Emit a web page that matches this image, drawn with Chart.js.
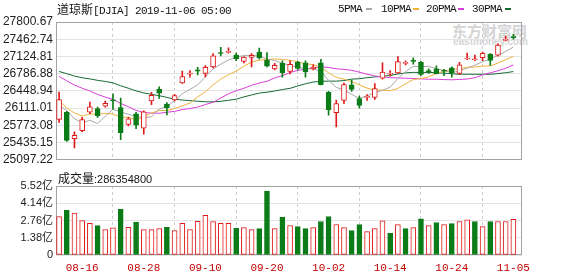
<!DOCTYPE html>
<html><head><meta charset="utf-8">
<script src="https://cdn.jsdelivr.net/npm/chart.js@4/dist/chart.umd.min.js"></script>
<style>
html,body{margin:0;padding:0;background:#fff;}
#wrap{position:relative;width:578px;height:276px;overflow:hidden;background:#fff;}
canvas{position:absolute;left:0;}
#c1{top:0;} #c2{top:170px;}
.t{position:absolute;white-space:nowrap;font-family:"Liberation Mono",monospace;font-size:11px;letter-spacing:-0.6px;color:#111;line-height:12px;}
.cjk{font-family:"Noto Sans CJK SC",sans-serif;font-size:12px;letter-spacing:0;}
.dash{position:absolute;width:6px;height:2px;}
.wm{position:absolute;color:#d4d4d4;white-space:nowrap;}
</style></head>
<body><div id="wrap">
<div class="wm" style="left:452px;top:22px;font-family:'Noto Sans CJK SC';font-size:15px;font-weight:bold;line-height:17px;">东方财富网</div>
<div class="wm" style="left:453px;top:37px;font-family:'Liberation Sans';font-size:10px;font-weight:bold;line-height:10px;">eastmoney.com</div>
<canvas id="c1" width="578" height="170"></canvas>
<canvas id="c2" width="578" height="106"></canvas>
<div class="t" style="left:57px;top:3px;"><span class="cjk">道琼斯</span>[DJIA] 2019-11-06 05:00</div>
<div class="t" style="left:338px;top:3px;">5PMA</div><div class="dash" style="left:366px;top:8px;background:#a8a8a8"></div>
<div class="t" style="left:381px;top:3px;">10PMA</div><div class="dash" style="left:413px;top:8px;background:#f0b23c"></div>
<div class="t" style="left:426px;top:3px;">20PMA</div><div class="dash" style="left:458px;top:8px;background:#d83fd8"></div>
<div class="t" style="left:472px;top:3px;">30PMA</div><div class="dash" style="left:505px;top:8px;background:#166a34"></div>
<div class="t" style="left:58px;top:172px;font-family:'Liberation Sans';font-size:11px;letter-spacing:0;"><span class="cjk">成交量</span>:286354800</div>
</div>
<script>
const dates = ['08-13','08-14','08-15','08-16','08-19','08-20','08-21','08-22','08-23','08-26','08-27','08-28','08-29','08-30',
'09-03','09-04','09-05','09-06','09-09','09-10','09-11','09-12','09-13','09-16','09-17','09-18','09-19','09-20','09-23','09-24','09-25','09-26','09-27','09-30',
'10-01','10-02','10-03','10-04','10-07','10-08','10-09','10-10','10-11','10-14','10-15','10-16','10-17','10-18','10-21','10-22','10-23','10-24','10-25','10-28','10-29','10-30','10-31',
'11-01','11-04','11-05'];
const opens  = [25890,26030,25510,25670,26030,26100,26150,26262,26120,25790,26000,25720,26250,26480,26190,26270,26605,26775,26860,26790,
26920,27200,27205,27150,27025,27105,27210,27050,26880,26990,26830,27010,27000,26880,27000,26420,26020,26260,26570,26300,
26320,26320,26700,26775,26800,26990,27050,27010,26850,26880,26845,26900,26790,27075,27060,27100,27170,27150,27440,27515];
const highs  = [26425,26050,25645,25930,26230,26130,26250,26390,26310,25930,26030,26060,26420,26530,26220,26380,26840,26850,26910,26945,
27180,27306,27294,27190,27120,27180,27290,27200,26990,27040,27040,27030,27040,26960,27070,26440,26267,26600,26660,26345,
26375,26595,27000,26850,27120,27040,27100,27030,26880,26940,26870,26920,27010,27190,27150,27210,27180,27370,27520,27560];
const lows   = [25830,25460,25330,25650,26000,25930,26130,26090,25490,25760,25710,25600,26180,26300,25980,26250,26595,26720,26760,26725,
26900,27135,27190,27040,27000,26917,27070,26920,26860,26720,26780,26860,26720,26860,26565,25975,25743,26200,26440,26110,
26260,26280,26680,26740,26790,26960,26975,26750,26790,26780,26750,26720,26770,27060,27040,27040,26950,27130,27430,27465];
const closes = [26279.91,25479.42,25579.39,25886.01,26135.79,25962.44,26202.73,26252.24,25628.90,25898.83,25777.90,26036.10,26362.25,26403.28,
26118.02,26355.47,26728.15,26797.46,26835.51,26909.43,27137.04,27182.45,27219.52,27076.82,27110.80,27147.08,27094.79,26935.07,26949.99,26807.77,
26970.71,26891.12,26820.25,26916.83,26573.04,26078.62,26201.04,26573.72,26478.02,26164.04,26346.01,26496.67,26816.59,26787.36,27024.80,
27001.98,27025.88,26770.20,26827.64,26788.10,26833.95,26805.53,26958.06,27090.72,27071.46,27186.69,27046.23,27347.36,27462.11,27492.63];
const prevClose = 25896.44;
const volumes = [3.08,3.57,3.35,2.76,2.54,2.35,2.03,2.17,3.65,2.22,2.62,2.03,2.03,2.11,2.22,1.95,2.54,2.03,2.70,3.17,
2.68,2.54,2.54,2.14,2.19,2.03,2.11,5.11,2.11,3.03,2.35,2.27,2.11,2.19,2.68,3.08,2.44,2.19,1.95,2.44,
1.87,2.11,2.73,1.73,2.44,2.11,2.19,2.90,2.35,2.60,2.44,2.52,2.68,2.82,2.68,2.27,2.68,2.68,2.68,2.86];
const ma5 = [26169.81,26064.28,25904.52,25824.23,25872.10,25808.61,25953.27,26087.84,26036.42,25989.03,25952.12,25918.79,25940.80,26095.67,26139.51,
26255.02,26393.43,26480.48,26566.92,26725.20,26881.52,26972.38,27056.79,27105.05,27145.33,27147.33,27129.80,27072.91,27047.55,26986.94,
26951.67,26910.93,26887.97,26881.34,26834.39,26655.97,26517.96,26468.65,26380.89,26299.09,26352.57,26411.69,26460.27,26522.13,26694.29,
26825.48,26931.32,26922.04,26930.10,26882.76,26849.15,26805.08,26842.66,26895.27,26951.94,27022.49,27070.63,27148.49,27222.77,27307.00];
const ma10 = [26252.90,26114.42,26014.01,25954.11,25995.92,25989.21,26008.78,25996.18,25930.33,25930.57,25880.37,25936.03,26014.32,26066.05,26064.27,
26103.57,26156.11,26210.64,26331.30,26432.36,26568.27,26682.91,26768.63,26835.99,26935.27,27014.43,27051.09,27064.85,27076.30,27066.13,
27049.50,27020.37,26980.44,26964.44,26910.67,26803.82,26714.44,26678.31,26631.11,26566.74,26504.27,26464.82,26464.46,26451.51,26496.69,
26589.02,26671.51,26691.16,26726.12,26788.52,26837.32,26868.20,26882.35,26912.69,26917.35,26935.82,26937.86,26995.57,27059.02,27129.47];
const ma20 = [26733.49,26646.47,26564.29,26500.88,26449.08,26379.74,26326.38,26281.94,26203.77,26137.64,26066.63,26025.22,26014.17,26010.08,26030.09,
26046.39,26082.45,26103.41,26130.81,26181.46,26224.32,26309.47,26391.48,26451.02,26499.77,26559.00,26603.60,26637.74,26703.80,26749.25,
26808.89,26851.64,26874.54,26900.21,26922.97,26909.12,26882.77,26871.58,26853.71,26816.44,26776.88,26742.60,26722.45,26707.98,26703.68,
26696.42,26692.98,26684.73,26678.61,26677.63,26670.79,26666.51,26673.40,26682.10,26707.02,26762.42,26804.68,26843.36,26892.57,26959.00];
const ma30 = [26830.31,26786.74,26740.52,26705.98,26683.64,26656.27,26634.35,26606.49,26549.72,26501.04,26449.12,26409.66,26380.97,26355.94,26320.81,
26287.69,26269.62,26258.17,26246.28,26235.88,26233.85,26244.45,26265.66,26285.38,26331.82,26369.07,26405.33,26423.89,26445.97,26476.35,
26499.38,26546.44,26587.80,26622.16,26636.73,26640.61,26640.55,26651.27,26679.57,26688.41,26707.35,26722.70,26737.84,26750.65,26780.87,
26802.42,26812.35,26811.44,26811.18,26807.13,26797.03,26784.46,26775.75,26776.21,26774.90,26776.22,26774.60,26788.35,26805.42,26828.25];
const xTickLabels = ['08-16','08-28','09-10','09-20','10-02','10-14','10-24','11-05'];
const priceTicks = [25097.22,25435.15,25773.08,26111.01,26448.94,26786.88,27124.81,27462.74,27800.67];
const volTicks = [0,1.38,2.76,4.14,5.52];
const volTickLabels = ['0','1.38亿','2.76亿','4.14亿','5.52亿'];

const RED = '#e01a1a', GREEN = '#0c7c18';
const xIdx = xTickLabels.map(l => dates.indexOf(l));
const up = closes.map((c,i) => c >= opens[i]);
const volUp = closes.map((c,i) => c >= (i === 0 ? prevClose : closes[i-1]));

const frame = {
  id:'frame',
  beforeDatasetsDraw(chart){
    const {ctx, chartArea:a} = chart;
    ctx.save(); ctx.strokeStyle='#a3a3a3'; ctx.lineWidth=1;
    ctx.strokeRect(Math.round(a.left)+0.5, Math.round(a.top)+0.5, Math.round(a.right-a.left)-1, Math.round(a.bottom-a.top)-1);
    ctx.restore();
  }
};
const xScale = (showLabels) => ({
  type:'linear', min:-0.4, max:60.12, offset:false,
  afterBuildTicks(s){ s.ticks = xIdx.map(v => ({value:v})); },
  afterFit(s){ s.height = showLabels ? 21 : 0; },
  grid:{color:'#cdcdcd', drawTicks:false, lineWidth:1},
  border:{display:false, dash:[3,3]},
  ticks:{display:showLabels, autoSkip:false, maxRotation:0, padding:6, color:'#c40000',
    font:{family:'Liberation Mono', size:11},
    callback:(v) => dates[v] }
});
const pts = arr => arr.map((v,i) => ({x:i, y:v}));
const maLine = (arr, color, order) => ({type:'line', data:pts(arr), borderColor:color, borderWidth:1, pointRadius:0, tension:0, order});

new Chart(document.getElementById('c1'), {
  type:'bar',
  data:{datasets:[
    {data:dates.map((d,i)=>({x:i, y:[opens[i], closes[i]]})), backgroundColor:up.map(u=>u?'#ffffff':GREEN), borderColor:up.map(u=>u?RED:GREEN),
      borderWidth:1, borderSkipped:false, barThickness:5, minBarLength:1, grouped:false, order:0},
    {data:dates.map((d,i)=>({x:i, y:[lows[i], highs[i]]})), backgroundColor:up.map(u=>u?RED:GREEN), borderWidth:0,
      barThickness:1, grouped:false, order:1},
    maLine(ma5,'#a8a8a8',2), maLine(ma10,'#f0b23c',3), maLine(ma20,'#d83fd8',4), maLine(ma30,'#166a34',5)
  ]},
  options:{
    responsive:false, animation:false, devicePixelRatio:1,
    layout:{padding:{left:0,right:56,top:22,bottom:6}},
    plugins:{legend:{display:false}, tooltip:{enabled:false}},
    scales:{
      x:xScale(false),
      y:{type:'linear', min:priceTicks[0], max:priceTicks[priceTicks.length-1],
        afterBuildTicks(s){ s.ticks = priceTicks.map(v=>({value:v})); },
        afterFit(s){ s.width = 56; },
        grid:{color:'#e4e4e4', drawTicks:false}, border:{display:false},
        ticks:{padding:3, color:'#222', font:{family:'Liberation Sans', size:12}, callback:(v)=>v.toFixed(2)}}
    }
  },
  plugins:[frame]
});

new Chart(document.getElementById('c2'), {
  type:'bar',
  data:{datasets:[
    {data:pts(volumes), backgroundColor:volUp.map(u=>u?'#ffffff':GREEN), borderColor:volUp.map(u=>u?RED:GREEN),
      borderWidth:1, borderSkipped:false, barThickness:5, grouped:false}
  ]},
  options:{
    responsive:false, animation:false, devicePixelRatio:1,
    layout:{padding:{left:0,right:56,top:16,bottom:0}},
    plugins:{legend:{display:false}, tooltip:{enabled:false}},
    scales:{
      x:xScale(true),
      y:{type:'linear', min:0, max:volTicks[volTicks.length-1],
        afterBuildTicks(s){ s.ticks = volTicks.map(v=>({value:v})); },
        afterFit(s){ s.width = 56; },
        grid:{color:'#e4e4e4', drawTicks:false}, border:{display:false},
        ticks:{padding:3, color:'#222', font:{family:'Liberation Sans, Noto Sans CJK SC', size:11},
          callback:(v)=>volTickLabels[volTicks.indexOf(v)]}}
    }
  },
  plugins:[frame]
});
</script>
</body></html>
